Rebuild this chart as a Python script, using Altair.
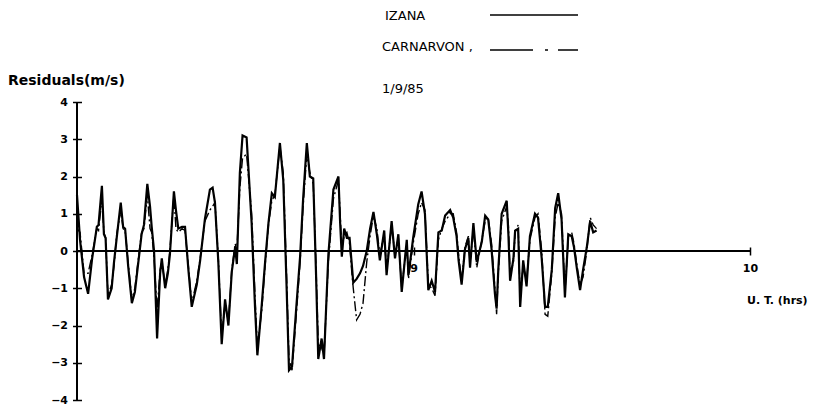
import altair as alt
import pandas as pd

# Universal time (hours)
hours = [8.000, 8.009, 8.021, 8.033, 8.045, 8.059, 8.064, 8.074, 8.080, 8.085,
         8.092, 8.103, 8.110, 8.118, 8.130, 8.137, 8.143, 8.152, 8.163, 8.172,
         8.181, 8.192, 8.199, 8.209, 8.217, 8.222, 8.229, 8.238, 8.247, 8.252,
         8.262, 8.270, 8.276, 8.288, 8.294, 8.301, 8.312, 8.321, 8.331, 8.341,
         8.356, 8.366, 8.380, 8.395, 8.403, 8.410, 8.420, 8.430, 8.440, 8.450,
         8.460, 8.470, 8.475, 8.484, 8.492, 8.504, 8.519, 8.529, 8.536, 8.549,
         8.559, 8.569, 8.579, 8.588, 8.603, 8.613, 8.623, 8.630, 8.639, 8.651,
         8.663, 8.672, 8.683, 8.692, 8.702, 8.710, 8.717, 8.727, 8.734, 8.747,
         8.762, 8.777, 8.782, 8.787, 8.794, 8.802, 8.810, 8.816, 8.821, 8.831,
         8.841, 8.850, 8.861, 8.871, 8.881, 8.891, 8.900, 8.913, 8.920, 8.935,
         8.945, 8.955, 8.965, 8.980, 8.985, 8.999, 9.014, 9.024, 9.034, 9.044,
         9.054, 9.064, 9.074, 9.084, 9.094, 9.109, 9.118, 9.128, 9.134, 9.143,
         9.153, 9.163, 9.168, 9.178, 9.188, 9.203, 9.213, 9.222, 9.232, 9.242,
         9.247, 9.252, 9.262, 9.277, 9.282, 9.287, 9.297, 9.302, 9.311, 9.317,
         9.326, 9.336, 9.346, 9.361, 9.370, 9.381, 9.391, 9.399, 9.411, 9.421,
         9.430, 9.440, 9.450, 9.460, 9.470, 9.477, 9.486, 9.495, 9.504, 9.515,
         9.525, 9.534, 9.544]

izana = [1.5, 0.3, -0.7, -1.15, -0.2, 0.65, 0.7, 1.75, 0.45, 0.35,
         -1.3, -1.0, -0.3, 0.35, 1.3, 0.65, 0.6, -0.4, -1.4, -1.1,
         -0.4, 0.45, 0.7, 1.8, 1.2, 0.65, 0.0, -2.35, -0.6, -0.2,
         -1.0, -0.6, -0.1, 1.6, 1.1, 0.6, 0.65, 0.65, -0.5, -1.5,
         -0.9, -0.25, 0.85, 1.65, 1.7, 1.3, -0.3, -2.5, -1.3, -2.0,
         -0.55, 0.1, -0.35, 2.1, 3.1, 3.05, 0.75, -1.5, -2.8, -1.45,
         -0.3, 0.75, 1.55, 1.45, 2.9, 1.9, -1.0, -3.2, -3.1, -1.6,
         -0.15, 1.4, 2.9, 2.0, 1.95, -0.5, -2.9, -2.35, -2.9, -0.1,
         1.65, 2.0, 0.75, -0.15, 0.6, 0.35, 0.35, -0.3, -0.85, -0.75,
         -0.6, -0.4, 0.0, 0.6, 1.05, 0.45, -0.25, 0.55, -0.65, 0.8,
         -0.2, 0.45, -1.1, 0.3, -0.65, 0.35, 1.25, 1.6, 1.0, -1.05,
         -0.8, -1.1, 0.5, 0.55, 0.95, 1.1, 0.9, 0.4, -0.25, -0.9,
         0.05, 0.35, -0.45, 0.75, -0.3, 0.25, 0.95, 0.85, 0.05, -1.15,
         -1.55, -0.5, 1.0, 1.35, 0.45, -0.8, -0.2, 0.55, 0.6, -1.5,
         -0.25, -0.95, 0.4, 1.0, 0.9, -0.2, -1.5, -1.5, -0.5, 1.15,
         1.55, 0.85, -1.25, 0.45, 0.4, 0.1, -0.5, -1.05, -0.5, 0.1,
         0.8, 0.5, 0.55]

carnarvon = [0.6, 0.5, -0.6, -0.6, -0.1, 0.6, 0.55, 1.4, 0.5, 0.35,
             -1.2, -0.9, -0.4, 0.45, 1.1, 0.6, 0.55, -0.3, -1.3, -1.0,
             -0.3, 0.5, 0.6, 1.5, 0.6, 0.5, -0.2, -1.6, -0.5, -0.3,
             -0.9, -0.5, 0.0, 1.5, 0.6, 0.5, 0.6, 0.55, -0.4, -1.4,
             -0.8, -0.2, 0.8, 1.1, 1.2, 1.3, -0.2, -2.3, -1.4, -1.9,
             -0.5, 0.2, 0.0, 1.7, 2.5, 2.6, 1.0, -1.2, -2.6, -1.6,
             -0.4, 0.7, 1.35, 1.5, 2.8, 2.1, -0.7, -2.9, -3.2, -1.8,
             -0.3, 1.2, 2.6, 2.1, 1.8, -0.3, -2.5, -2.6, -2.8, -0.3,
             1.4, 1.9, 1.0, 0.1, 0.4, 0.5, 0.2, -0.5, -1.0, -1.85,
             -1.7, -1.4, -0.3, 0.4, 0.95, 0.6, -0.1, 0.45, -0.5, 0.7,
             -0.1, 0.35, -1.0, 0.2, -0.75, 0.2, 1.0, 1.3, 1.1, -0.9,
             -1.0, -1.2, 0.3, 0.6, 0.8, 1.0, 1.0, 0.5, -0.1, -0.8,
             0.1, 0.4, -0.3, 0.6, -0.45, 0.3, 0.8, 0.9, 0.2, -1.0,
             -1.7, -0.6, 0.8, 1.2, 0.7, -0.6, -0.3, 0.5, 0.7, -1.3,
             -0.4, -0.8, 0.3, 0.9, 1.0, 0.0, -1.7, -1.75, -0.6, 0.9,
             1.3, 1.0, -1.1, 0.3, 0.5, 0.2, -0.4, -0.9, -0.7, 0.0,
             0.9, 0.7, 0.6]

y_ticks = [-4, -3, -2, -1, 0, 1, 2, 3, 4]
x_ticks = [9, 10]
x_range = [8, 10]
y_range = [-4, 4]

FONT = "DejaVu Sans"

df = pd.DataFrame({"UT": hours, "IZANA": izana, "CARNARVON": carnarvon})
zero_df = pd.DataFrame({"x0": [x_range[0]], "x1": [x_range[1]], "y0": [0]})
yax_df = pd.DataFrame({"x0": [x_range[0]], "y0": [y_range[0]], "y1": [y_range[1]]})
one = pd.DataFrame({"a": [0]})

xscale = alt.Scale(domain=x_range, nice=False, zero=False)
yscale = alt.Scale(domain=y_range, nice=False)

xaxis = alt.Axis(values=x_ticks, domain=False, offset=-153, tickSize=8,
                 tickColor="black", tickWidth=1.5, labelFont=FONT,
                 labelFontSize=11, labelFontWeight="bold", labelColor="black",
                 labelPadding=7, grid=False, labelFlush=False, title=None)
yaxis = alt.Axis(values=y_ticks, domain=False, offset=-4.5, tickSize=9,
                 tickColor="black", tickWidth=1.5, labelFont=FONT,
                 labelFontSize=11, labelFontWeight="bold", labelColor="black",
                 labelPadding=5, grid=False, title=None)

izana_line = alt.Chart(df).mark_line(color="black", strokeWidth=2.2).encode(
    x=alt.X("UT:Q", scale=xscale, axis=xaxis, title=None),
    y=alt.Y("IZANA:Q", scale=yscale, axis=yaxis, title=None),
)
carn_line = alt.Chart(df).mark_line(color="black", strokeWidth=1.4,
                                    strokeDash=[10, 3, 2, 3]).encode(
    x=alt.X("UT:Q", scale=xscale, axis=xaxis, title=None),
    y=alt.Y("CARNARVON:Q", scale=yscale, axis=yaxis, title=None),
)
zero_rule = alt.Chart(zero_df).mark_rule(color="black", strokeWidth=2).encode(
    x=alt.X("x0:Q", scale=xscale, axis=xaxis, title=None),
    x2="x1:Q",
    y=alt.Y("y0:Q", scale=yscale, axis=yaxis, title=None),
)
y_rule = alt.Chart(yax_df).mark_rule(color="black", strokeWidth=2).encode(
    x=alt.X("x0:Q", scale=xscale, axis=xaxis, title=None),
    y=alt.Y("y0:Q", scale=yscale, axis=yaxis, title=None),
    y2="y1:Q",
)

def label(txt, x, y, size=13, weight="normal"):
    return alt.Chart(one).mark_text(
        text=txt, align="left", baseline="middle", font=FONT,
        fontSize=size, fontWeight=weight, color="black"
    ).encode(x=alt.value(x), y=alt.value(y))

t_izana = label("IZANA", 308, -86)
t_carn = label("CARNARVON ,", 305, -55)
t_date = label("1/9/85", 305, -13)
t_ytitle = label("Residuals(m/s)", -69, -21, size=14, weight="bold")
t_xtitle = label("U. T. (hrs)", 670, 199, size=11, weight="bold")

leg1 = alt.Chart(one).mark_rule(color="black", strokeWidth=1.5).encode(
    x=alt.value(413), x2=alt.value(501), y=alt.value(-87))
leg2 = alt.Chart(one).mark_rule(color="black", strokeWidth=1.5,
                                strokeDash=[43, 12, 3, 10]).encode(
    x=alt.value(413), x2=alt.value(501), y=alt.value(-52))

chart = alt.layer(
    zero_rule, y_rule, carn_line, izana_line,
    t_izana, t_carn, t_date, t_ytitle, t_xtitle, leg1, leg2
).properties(
    width=673, height=298,
    padding={"left": 69, "top": 94, "right": 62, "bottom": 10},
    autosize=alt.AutoSizeParams(type="none"),
    background="white",
).configure_view(stroke=None)

chart.save("out.html", embed_options={"renderer": "svg", "actions": False})
